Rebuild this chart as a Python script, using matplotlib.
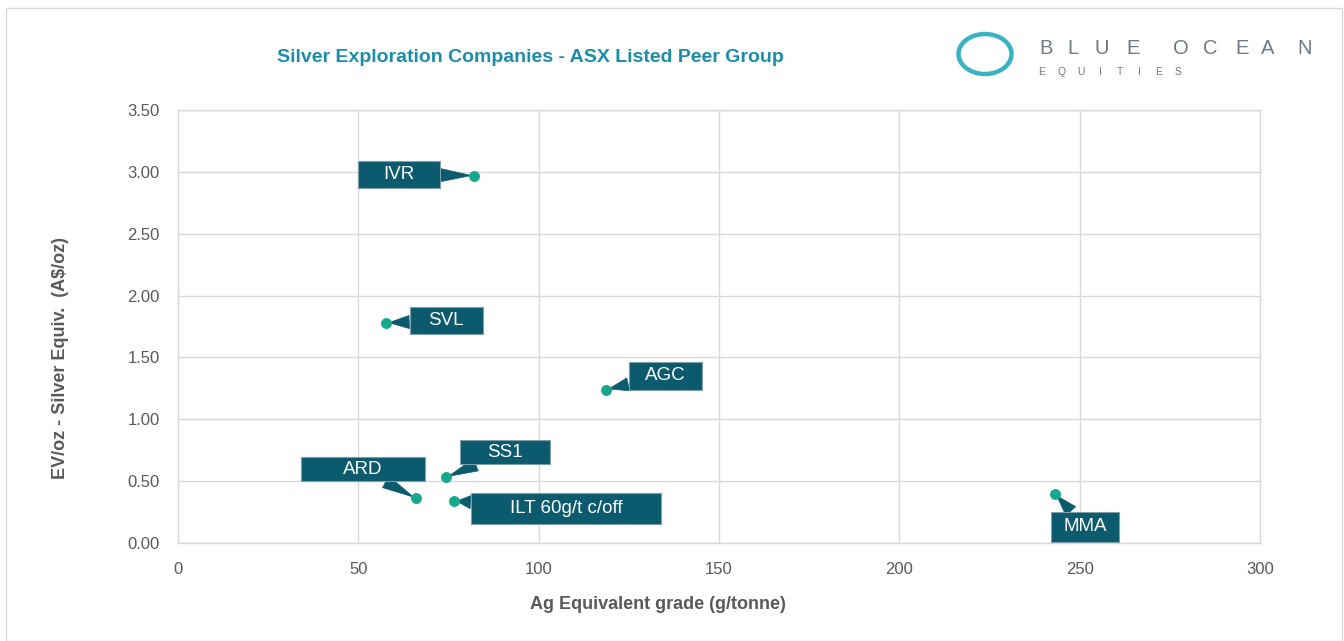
import matplotlib
matplotlib.use("Agg")
import matplotlib.pyplot as plt
from matplotlib.path import Path
from matplotlib.patches import Ellipse, Rectangle

# ---- data ----
companies = ["IVR", "SVL", "AGC", "SS1", "ARD", "ILT 60g/t c/off", "MMA"]
ag_grade = [82.1, 57.7, 118.7, 74.3, 66.0, 76.5, 243.1]
ev_per_oz = [2.97, 1.78, 1.24, 0.53, 0.36, 0.34, 0.40]
x_ticks = [0, 50, 100, 150, 200, 250, 300]
y_ticks = [0.0, 0.5, 1.0, 1.5, 2.0, 2.5, 3.0, 3.5]

# label placement (pixels): offset from point, box width, box height
label_dx = [-75, 60, 59, 59, -53, 112, 30]
label_dy = [1, 2, 14, 25, 29, -8, -33]
box_w = [82, 73, 73, 90, 124, 190, 68]
box_h = [27, 27, 28, 24, 24, 31, 30]

BOX_C = "#0B5A6E"
PT_C = "#17A98B"
GRID_C = "#D9D9D9"
TXT_C = "#595959"
TITLE_C = "#1B8DAA"
LOGO_C = "#6E7B82"

plt.rcParams['font.family'] = ['Liberation Sans', 'DejaVu Sans']

fig = plt.figure(figsize=(13.44, 6.41), dpi=100)
fig.patch.set_facecolor("white")
# outer frame
fig.add_artist(Rectangle((6/1344, 0), 1336/1344, 633/641, transform=fig.transFigure,
                         fill=False, ec="#D9D9D9", lw=1.0))

ax = fig.add_axes([178/1344, 98/641, 1082/1344, 433/641])
ax.set_xlim(0, 300)
ax.set_ylim(0, 3.5)
ax.set_xticks(x_ticks)
ax.set_yticks(y_ticks)
ax.set_xticklabels([f"{v:d}" for v in x_ticks])
ax.set_yticklabels([f"{v:.2f}" for v in y_ticks])
ax.grid(True, color=GRID_C, lw=1.0)
ax.set_axisbelow(True)
for s in ax.spines.values():
    s.set_color(GRID_C)
    s.set_linewidth(1.0)
ax.tick_params(length=0, labelsize=12, colors=TXT_C, pad=13)
ax.tick_params(axis='x', pad=14)

ax.set_xlabel("Ag Equivalent grade (g/tonne)", fontsize=13, fontweight='bold', color=TXT_C)
ax.set_ylabel("EV/oz - Silver Equiv.  (A$/oz)", fontsize=13, fontweight='bold', color=TXT_C)
ax.xaxis.set_label_coords((658 - 178) / 1082, -(596 - 543) / 433)
ax.yaxis.set_label_coords(-(178 - 69) / 1082, (543 - 358) / 433)

ax.scatter(ag_grade, ev_per_oz, s=62, color=PT_C, zorder=6, linewidths=0)


def fixed_box(w, h):
    def style(x0, y0, width, height, mutation_size):
        cx = x0 + width / 2
        cy = y0 + height / 2
        verts = [(cx - w / 2, cy - h / 2), (cx + w / 2, cy - h / 2),
                 (cx + w / 2, cy + h / 2), (cx - w / 2, cy + h / 2),
                 (cx - w / 2, cy - h / 2)]
        return Path(verts, closed=True)
    return style


for name, x, y, dx, dy, w, h in zip(companies, ag_grade, ev_per_oz,
                                     label_dx, label_dy, box_w, box_h):
    ax.annotate(name, xy=(x, y), xytext=(dx, dy), textcoords='offset pixels',
                ha='center', va='center', fontsize=13.5, color='white', zorder=5,
                bbox=dict(boxstyle=fixed_box(w, h), fc=BOX_C, ec="#7F9FA8", lw=0.8),
                arrowprops=dict(arrowstyle="wedge,tail_width=0.7,shrink_factor=0.5",
                                fc=BOX_C, ec=BOX_C, lw=0.5, shrinkA=0, shrinkB=2))

fig.text(530/1344, 1 - 57/641, "Silver Exploration Companies - ASX Listed Peer Group",
         ha='center', va='center', fontsize=14, fontweight='bold', color=TITLE_C)

# logo
fig.add_artist(Ellipse((985/1344, 1 - 54/641), 53/1344, 40/641, transform=fig.transFigure,
                       fill=False, ec="#38B3C2", lw=3.2))
logo_top_x = [1039, 1067, 1094, 1126, None, 1173, 1203, 1235, 1261, 1297]
for ch, px in zip("BLUE OCEAN", logo_top_x):
    if px is None:
        continue
    fig.text(px / 1344, 1 - 48/641, ch, ha='left', va='center',
             fontsize=14.5, color=LOGO_C, fontweight='light')
for i, ch in enumerate("EQUITIES"):
    fig.text((1042 + i * 19.5) / 1344, 1 - 72/641, ch, ha='center', va='center',
             fontsize=7.5, color=LOGO_C)

fig.savefig("out.png", dpi=100)
